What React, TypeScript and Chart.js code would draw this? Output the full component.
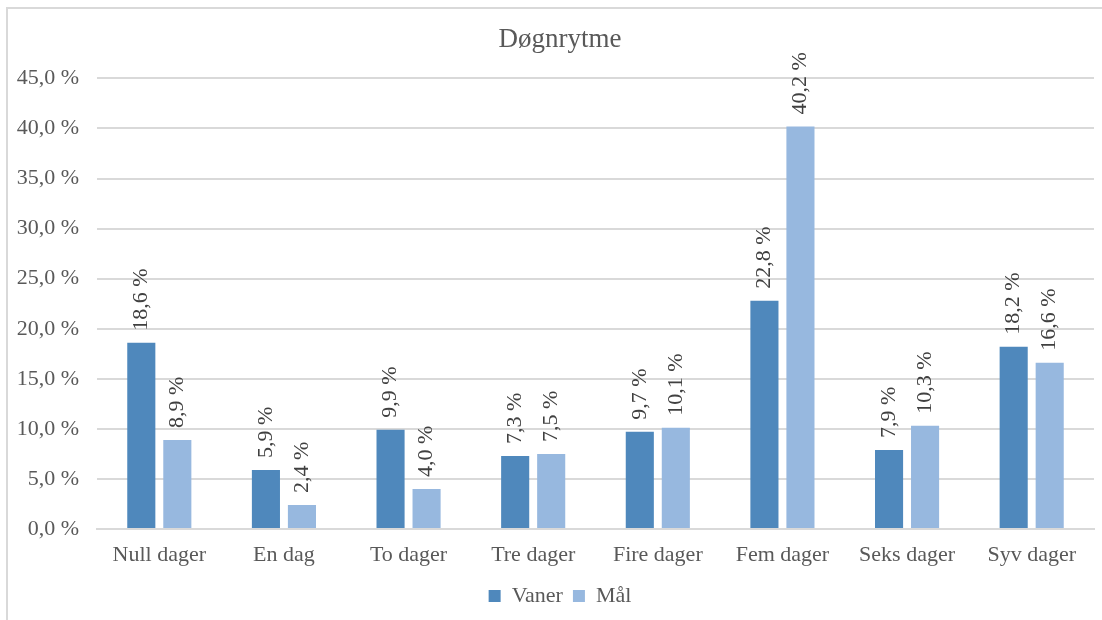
import React, { useEffect, useRef } from "react";
import { Chart, registerables } from "chart.js";

Chart.register(...registerables);

const categories = ["Null dager", "En dag", "To dager", "Tre dager", "Fire dager", "Fem dager", "Seks dager", "Syv dager"];
const vaner = [18.6, 5.9, 9.9, 7.3, 9.7, 22.8, 7.9, 18.2];
const maal = [8.9, 2.4, 4.0, 7.5, 10.1, 40.2, 10.3, 16.6];
const yTicks = [0, 5, 10, 15, 20, 25, 30, 35, 40, 45];

const FONT = "'Liberation Serif', 'Times New Roman', serif";
const TEXT = "#595959";
const fmt = (v: number) => v.toFixed(1).replace(".", ",") + " %";

const labelPlugin = {
  id: "barLabels",
  afterDatasetsDraw(chart: any) {
    const ctx = chart.ctx;
    ctx.save();
    ctx.font = `22px ${FONT}`;
    ctx.fillStyle = "#404040";
    ctx.textAlign = "left";
    ctx.textBaseline = "middle";
    chart.data.datasets.forEach((ds: any, di: number) => {
      const meta = chart.getDatasetMeta(di);
      meta.data.forEach((el: any, i: number) => {
        ctx.save();
        ctx.translate(el.x, el.y - 12);
        ctx.rotate(-Math.PI / 2);
        ctx.fillText(fmt(ds.data[i]), 0, 0);
        ctx.restore();
      });
    });
    ctx.restore();
  },
};

export default function App() {
  const ref = useRef<HTMLCanvasElement>(null);
  useEffect(() => {
    if (!ref.current) return;
    const chart = new Chart(ref.current, {
      type: "bar",
      data: {
        labels: categories,
        datasets: [
          { label: "Vaner", data: vaner, backgroundColor: "#4F88BC", categoryPercentage: 0.578, barPercentage: 0.78 },
          { label: "Mål", data: maal, backgroundColor: "#97B8DF", categoryPercentage: 0.578, barPercentage: 0.78 },
        ],
      },
      options: {
        animation: false,
        responsive: false,
        maintainAspectRatio: false,
        layout: { padding: { top: 6, right: 0, bottom: 3, left: 0 } },
        plugins: {
          title: {
            display: true,
            text: "Døgnrytme",
            color: TEXT,
            font: { family: FONT, size: 27, weight: "normal" },
            padding: { top: 9, bottom: 22 },
          },
          legend: {
            position: "bottom",
            labels: {
              color: TEXT,
              font: { family: FONT, size: 22 },
              boxWidth: 12,
              boxHeight: 12,
              padding: 10,
            },
          },
          tooltip: { enabled: false },
        },
        scales: {
          x: {
            grid: { display: false, drawTicks: false },
            border: { color: "#d9d9d9", width: 2 },
            ticks: { color: TEXT, font: { family: FONT, size: 22 }, padding: 13, maxRotation: 0 },
            afterFit: (s: any) => { s.height = 46; },
          },
          y: {
            min: 0,
            max: 45,
            afterBuildTicks: (s: any) => { s.ticks = yTicks.map((v) => ({ value: v })); },
            grid: { color: "#d9d9d9", lineWidth: 2, drawTicks: false },
            border: { display: false },
            ticks: { color: TEXT, font: { family: FONT, size: 22 }, padding: 18, callback: (v: any) => fmt(Number(v)) },
            afterFit: (s: any) => { s.width = 90; },
          },
          yr: {
            position: "right",
            display: true,
            grid: { display: false, drawTicks: false },
            border: { display: false },
            ticks: { display: false },
            afterFit: (s: any) => { s.width = 19; },
          },
        },
      },
      plugins: [labelPlugin],
    });
    return () => chart.destroy();
  }, []);
  return (
    <div style={{ position: "fixed", left: 0, top: 0, width: 1102, height: 620, overflow: "hidden", background: "#fff" }}>
      <div style={{ position: "absolute", left: 6, top: 7, width: 1200, height: 700, border: "2px solid #d9d9d9" }} />
      <canvas ref={ref} width={1106} height={611} style={{ position: "absolute", left: 7, top: 9, width: 1106, height: 611 }} />
    </div>
  );
}
